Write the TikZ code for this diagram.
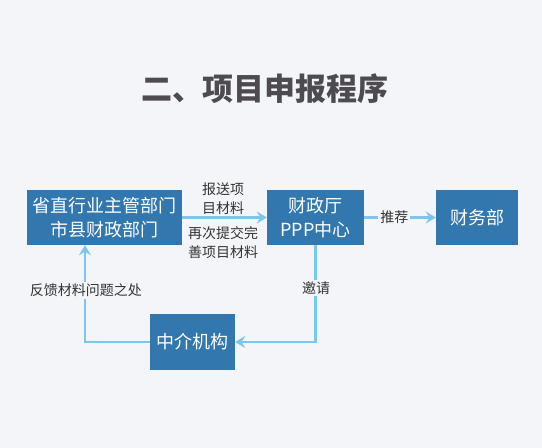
\documentclass[tikz,border=0pt]{standalone}
\usepackage{fontspec}
\newfontfamily\cjk{Noto Sans CJK SC}
\usetikzlibrary{arrows.meta}
\definecolor{bgc}{HTML}{F4F5F9}
\definecolor{boxc}{HTML}{3277AD}
\definecolor{arrc}{HTML}{7CC6EE}
\definecolor{txtc}{HTML}{333333}
\definecolor{titc}{HTML}{4D4B50}
\tikzset{
  box/.style={fill=boxc, text=white, inner sep=0pt, align=center,
    font=\cjk\fontsize{18}{24}\selectfont},
  lab/.style={text=txtc, inner sep=1pt, align=center,
    font=\cjk\fontsize{14}{19}\selectfont},
  labbg/.style={lab, fill=bgc, inner sep=2pt},
  conn/.style={draw=arrc, line width=2.8pt,
    -{Stealth[length=10pt,width=12pt,inset=3.5pt]}},
}
\begin{document}
\begin{tikzpicture}[x=1pt,y=-1pt]
\fill[bgc] (0,0) rectangle (542,448);
\useasboundingbox (0,0) rectangle (542,448);
\node[text=titc, font=\cjk\bfseries\fontsize{31}{34}\selectfont] (title) at (265,89) {二、项目申报程序};
\node[box, minimum width=155pt, minimum height=55pt] (b1) at (104.5,217.5) {省直行业主管部门\\市县财政部门};
\node[box, minimum width=97pt, minimum height=55pt] (b2) at (315.5,217.5) {财政厅\\PPP中心};
\node[box, minimum width=82pt, minimum height=55pt] (b3) at (477,217.5) {财务部};
\node[box, minimum width=85pt, minimum height=56pt] (b4) at (192.5,342) {中介机构};
\draw[conn] (b1.east) -- (b2.west);
\node[lab] (l1) at (223,199) {报送项\\目材料};
\node[lab] (l2) at (223,243) {再次提交完\\善项目材料};
\draw[conn] (b2.east) -- (b3.west) node[labbg, pos=0.42] (l3) {推荐};
\draw[conn] (b2.south) |- (b4.east);
\node[labbg] (l4) at (316,288) {邀请};
\draw[conn] (b4.west) -| ([xshift=-19.5pt]b1.south);
\node[labbg] (l5) at (86,290) {反馈材料问题之处};
\end{tikzpicture}
\end{document}
